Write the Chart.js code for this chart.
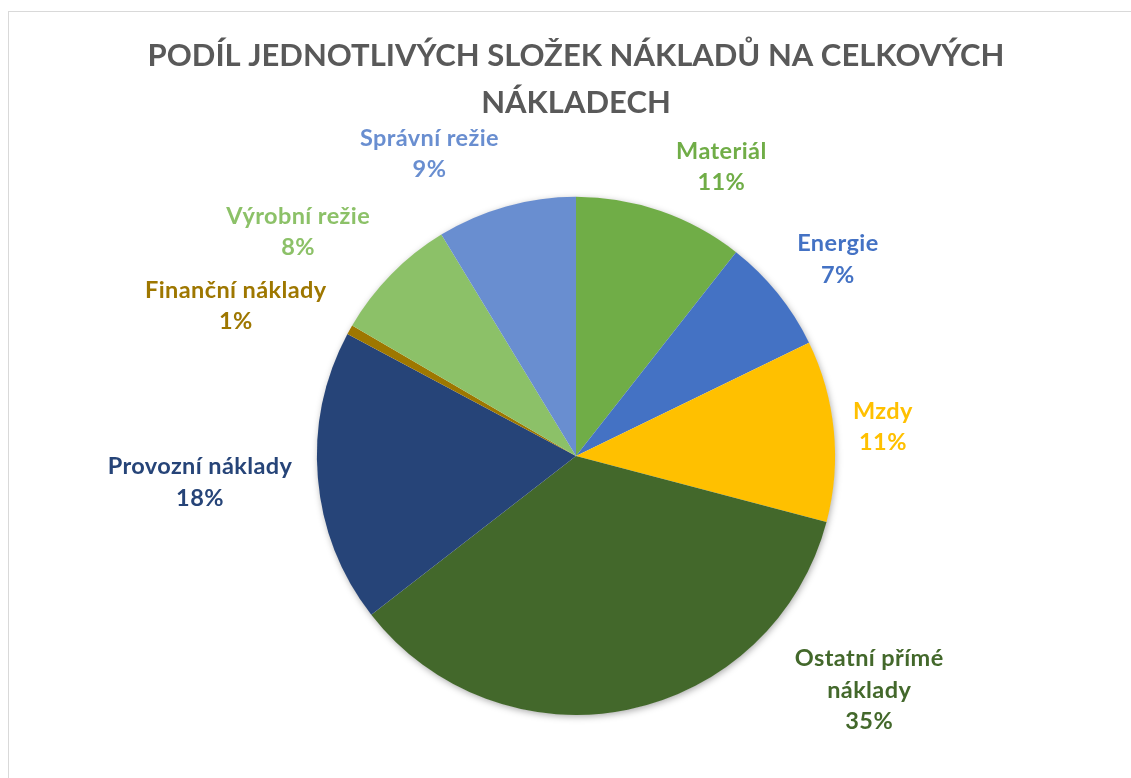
<!DOCTYPE html>
<html><head><meta charset="utf-8">
<script src="https://cdn.jsdelivr.net/npm/chart.js@4.4.1/dist/chart.umd.min.js"></script>
<style>
html,body{margin:0;padding:0;background:#fff;overflow:hidden;width:1131px;height:778px}
#box{position:absolute;left:8px;top:11px;width:1134px;height:800px;border:1px solid #d9d9d9}
canvas{display:block}
</style></head><body>
<div id="box"><canvas id="c" width="1134" height="800"></canvas></div>
<script>
const titleLines = ['PODÍL JEDNOTLIVÝCH SLOŽEK NÁKLADŮ NA CELKOVÝCH', 'NÁKLADECH'];
const categories = ['Materiál', 'Energie', 'Mzdy', 'Ostatní přímé náklady', 'Provozní náklady', 'Finanční náklady', 'Výrobní režie', 'Správní režie'];
const values = [10.6, 7.2, 11.3, 35.4, 18.3, 0.6, 7.9, 8.7];
const colors = ['#70AD47', '#4472C4', '#FFC000', '#43682B', '#264478', '#9E7700', '#8CC168', '#698ED0'];

const FONT = 'Lato, "Open Sans", sans-serif';

function wrap(ctx, text, maxW) {
  const words = text.split(' ');
  const lines = [];
  let cur = '';
  for (const w of words) {
    const t = cur ? cur + ' ' + w : w;
    if (cur && ctx.measureText(t).width > maxW) { lines.push(cur); cur = w; }
    else cur = t;
  }
  if (cur) lines.push(cur);
  return lines;
}

const pieShadow = {
  id: 'pieShadow',
  beforeDatasetsDraw(chart) {
    const arc = chart.getDatasetMeta(0).data[0];
    if (!arc) return;
    const ctx = chart.ctx;
    ctx.save();
    ctx.shadowColor = 'rgba(0,0,0,0.35)';
    ctx.shadowBlur = 7;
    ctx.shadowOffsetX = 1;
    ctx.shadowOffsetY = 2;
    ctx.fillStyle = '#ffffff';
    ctx.beginPath();
    ctx.arc(arc.x, arc.y, arc.outerRadius - 0.5, 0, Math.PI * 2);
    ctx.fill();
    ctx.restore();
  }
};

const outLabels = {
  id: 'outLabels',
  afterDatasetsDraw(chart, args, opts) {
    const ctx = chart.ctx;
    const meta = chart.getDatasetMeta(0);
    const data = chart.data.datasets[0].data;
    const total = data.reduce((a, b) => a + b, 0);
    ctx.save();
    ctx.font = opts.font;
    if ('letterSpacing' in ctx) ctx.letterSpacing = opts.letterSpacing;
    ctx.textAlign = 'center';
    ctx.textBaseline = 'middle';
    meta.data.forEach((arc, i) => {
      const [angDeg, f] = opts.placement[i];
      const a = angDeg * Math.PI / 180;
      const d = arc.outerRadius * f;
      const x = arc.x + d * Math.sin(a);
      const y = arc.y - d * Math.cos(a);
      const lines = wrap(ctx, chart.data.labels[i], opts.maxWidth);
      lines.push(Math.round(data[i] / total * 100) + '%');
      const lh = opts.lineHeight;
      const y0 = y - (lines.length - 1) * lh / 2;
      ctx.fillStyle = chart.data.datasets[0].backgroundColor[i];
      lines.forEach((ln, k) => ctx.fillText(ln, x, y0 + k * lh));
    });
    ctx.restore();
  }
};

new Chart(document.getElementById('c'), {
  type: 'pie',
  data: {
    labels: categories,
    datasets: [{
      data: values,
      backgroundColor: colors,
      borderWidth: 0,
      hoverBorderWidth: 0,
      hoverOffset: 0,
      offset: 0
    }]
  },
  options: {
    responsive: false,
    animation: false,
    layout: { padding: { top: 0, bottom: 97, left: 0, right: 0 } },
    plugins: {
      legend: { display: false },
      tooltip: { enabled: false },
      title: {
        display: true,
        text: titleLines,
        color: '#595959',
        font: { family: FONT, size: 31, weight: 'bold', lineHeight: 1.53 },
        padding: { top: 20, bottom: 70 }
      },
      outLabels: {
        font: 'bold 23.5px ' + FONT,
        letterSpacing: '0.4px',
        lineHeight: 31.5,
        maxWidth: 215,
        placement: [[26.7, 1.249], [53.1, 1.264], [84.6, 1.19], [128.6, 1.448], [266, 1.455], [293.8, 1.435], [308.9, 1.378], [334.1, 1.295]]
      }
    }
  },
  plugins: [pieShadow, outLabels]
});
</script>
</body></html>
